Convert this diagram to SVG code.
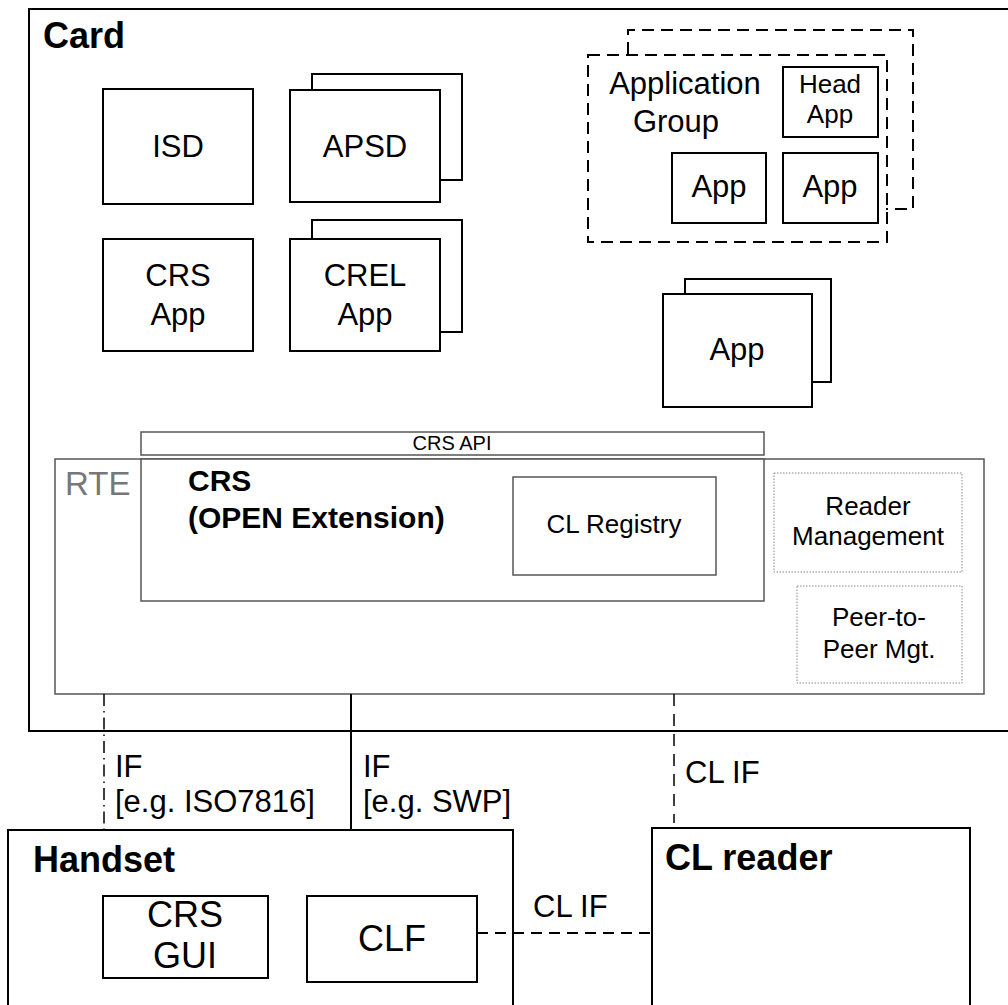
<svg xmlns="http://www.w3.org/2000/svg" width="1008" height="1005" viewBox="0 0 1008 1005">
<style>
text{font-family:"Liberation Sans",Arial,sans-serif;fill:#000}
.b{fill:#fff;stroke:#000;stroke-width:2}
.g{fill:#fff;stroke:#555;stroke-width:1.5}
.dot{fill:#fff;stroke:#888;stroke-width:1;stroke-dasharray:1.5 1.5}
.dash{fill:none;stroke:#000;stroke-width:2;stroke-dasharray:12 7}
.h{font-size:36px;font-weight:bold}
.l{font-size:31px;text-anchor:middle}
.s{font-size:26px;text-anchor:middle}
.c{font-size:31px}
</style>
<rect width="1008" height="1005" fill="#fff"/>
<g id="card">
<rect class="b" x="29" y="9" width="1000" height="722"/>
<text class="h" x="43" y="48">Card</text>
</g>
<g id="isd">
<rect class="b" x="103" y="89" width="150" height="115"/>
<text class="l" x="178" y="157">ISD</text>
</g>
<g id="apsd">
<rect class="b" x="312" y="74" width="150" height="106"/>
<rect class="b" x="290" y="90" width="150" height="112"/>
<text class="l" x="365" y="157">APSD</text>
</g>
<g id="crs-app">
<rect class="b" x="103" y="239" width="150" height="112"/>
<text class="l" x="178" y="286">CRS</text>
<text class="l" x="178" y="325">App</text>
</g>
<g id="crel-app">
<rect class="b" x="312" y="220" width="150" height="112"/>
<rect class="b" x="290" y="239" width="150" height="112"/>
<text class="l" x="365" y="286">CREL</text>
<text class="l" x="365" y="325">App</text>
</g>
<g id="app-group">
<path class="dash" d="M628 54 V30 H913 V209 H886"/>
<rect class="dash" x="588" y="55" width="299" height="187"/>
<text class="l" x="685" y="94">Application</text>
<text class="l" x="676" y="132">Group</text>
<rect class="b" x="783" y="67" width="95" height="70"/>
<text class="s" x="830" y="93">Head</text>
<text class="s" x="830" y="123">App</text>
<rect class="b" x="672" y="153" width="94" height="70"/>
<text class="l" x="719" y="197">App</text>
<rect class="b" x="783" y="153" width="95" height="70"/>
<text class="l" x="830" y="197">App</text>
</g>
<g id="app">
<rect class="b" x="685" y="279" width="146" height="103"/>
<rect class="b" x="663" y="294" width="149" height="113"/>
<text class="l" x="737" y="360">App</text>
</g>
<g id="rte">
<rect class="g" x="55" y="459" width="929" height="235"/>
<text x="65" y="495" style="font-size:33px;fill:#777">RTE</text>
</g>
<g id="crs-api">
<rect class="g" x="141" y="432" width="623" height="23"/>
<text x="452" y="450" style="font-size:20px;text-anchor:middle">CRS API</text>
</g>
<g id="crs">
<rect class="g" x="141" y="459" width="623" height="142"/>
<text x="188" y="491" style="font-size:30px;font-weight:bold">CRS</text>
<text x="188" y="528" style="font-size:30px;font-weight:bold">(OPEN Extension)</text>
</g>
<g id="cl-registry">
<rect class="g" x="513" y="477" width="203" height="98"/>
<text class="s" x="614" y="533">CL Registry</text>
</g>
<g id="reader-mgmt">
<rect class="dot" x="774" y="473" width="188" height="99"/>
<text class="s" x="868" y="515">Reader</text>
<text class="s" x="868" y="545">Management</text>
</g>
<g id="p2p-mgmt">
<rect class="dot" x="797" y="586" width="165" height="97"/>
<text class="s" x="879" y="626">Peer-to-</text>
<text class="s" x="879" y="658">Peer Mgt.</text>
</g>
<g id="handset">
<rect class="b" x="8" y="830" width="505" height="200"/>
<text class="h" x="33" y="872">Handset</text>
</g>
<g id="crs-gui">
<rect class="b" x="103" y="896" width="165" height="82"/>
<text x="185" y="927" style="font-size:36px;text-anchor:middle">CRS</text>
<text x="185" y="968" style="font-size:36px;text-anchor:middle">GUI</text>
</g>
<g id="clf">
<rect class="b" x="307" y="896" width="170" height="86"/>
<text x="392" y="951" style="font-size:36px;text-anchor:middle">CLF</text>
</g>
<g id="cl-reader">
<rect class="b" x="652" y="828" width="318" height="200"/>
<text class="h" x="665" y="870">CL reader</text>
</g>
<g id="connectors">
<line x1="104" y1="694" x2="104" y2="830" stroke="#000" stroke-width="1.5" stroke-dasharray="12 5 1.5 5"/>
<line x1="351" y1="694" x2="351" y2="830" stroke="#000" stroke-width="2"/>
<line x1="674" y1="694" x2="674" y2="823" stroke="#000" stroke-width="1.5" stroke-dasharray="12 8"/>
<line x1="477" y1="933" x2="652" y2="933" stroke="#000" stroke-width="2" stroke-dasharray="11 7"/>
<text class="c" x="115" y="777">IF</text>
<text class="c" x="115" y="812">[e.g. ISO7816]</text>
<text class="c" x="363" y="777">IF</text>
<text class="c" x="363" y="812">[e.g. SWP]</text>
<text class="c" x="685" y="783">CL IF</text>
<text class="c" x="533" y="917">CL IF</text>
</g>
</svg>
